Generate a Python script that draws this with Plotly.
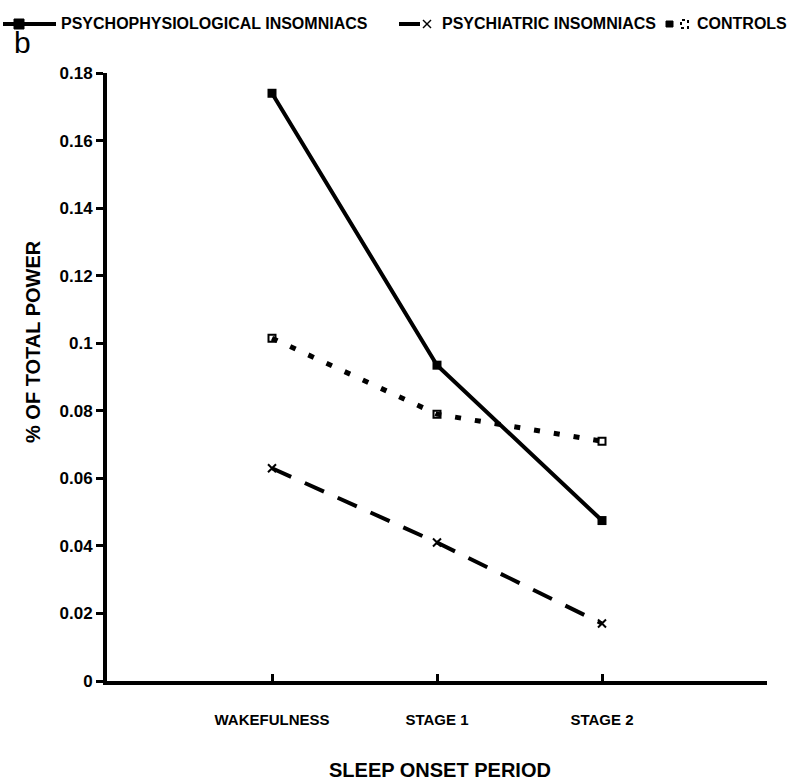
import plotly.graph_objects as go

categories = ["WAKEFULNESS", "STAGE 1", "STAGE 2"]
cat_pos = [1, 2, 3]
psychophys = [0.174, 0.0935, 0.0475]
psychiatric = [0.063, 0.041, 0.017]
controls = [0.1015, 0.079, 0.071]
series_names = ["PSYCHOPHYSIOLOGICAL INSOMNIACS", "PSYCHIATRIC INSOMNIACS", "CONTROLS"]
y_ticks = [0, 0.02, 0.04, 0.06, 0.08, 0.1, 0.12, 0.14, 0.16, 0.18]
y_ticktext = ["0", "0.02", "0.04", "0.06", "0.08", "0.1", "0.12", "0.14", "0.16", "0.18"]

FONT = "Liberation Sans, Arial, sans-serif"
L, T, R, B = 107, 73, 25, 102
W, H = 792 - L - R, 783 - T - B


def px(x):
    return (x - L) / W


def py(y):
    return 1 - (y - T) / H


fig = go.Figure()
fig.add_trace(go.Scatter(
    x=cat_pos, y=psychophys, name=series_names[0],
    mode="lines+markers", line=dict(color="black", width=4),
    marker=dict(symbol="square", size=9, color="black")))
fig.add_trace(go.Scatter(
    x=cat_pos, y=psychiatric, name=series_names[1],
    mode="lines+markers", line=dict(color="black", width=4, dash="21px,15px"),
    marker=dict(symbol="x-thin-open", size=8, color="black", line=dict(width=2, color="black"))))
fig.add_trace(go.Scatter(
    x=cat_pos, y=controls, name=series_names[2],
    mode="lines+markers", line=dict(color="black", width=5, dash="6px,14px"),
    marker=dict(symbol="square-open", size=7, color="black", line=dict(width=2, color="black"))))

fig.update_layout(
    width=792, height=783,
    margin=dict(l=L, r=R, t=T, b=B, autoexpand=False),
    paper_bgcolor="white", plot_bgcolor="white",
    font=dict(family=FONT, color="black", size=16),
    showlegend=False,
    xaxis=dict(range=[0, 4], tickmode="array", tickvals=cat_pos + [4], ticktext=categories + [""],
               showgrid=False, zeroline=False, showline=True, linecolor="black", linewidth=4,
               ticks="inside", ticklen=7, tickwidth=3, tickcolor="black",
               ticklabelstandoff=22,
               tickfont=dict(family=FONT, size=15, weight="bold")),
    yaxis=dict(range=[0, 0.18], tickmode="array", tickvals=y_ticks, ticktext=y_ticktext,
               showgrid=False, zeroline=False, showline=True, linecolor="black", linewidth=4,
               ticks="outside", ticklen=7, tickwidth=3, tickcolor="black",
               tickfont=dict(family=FONT, size=17, weight="bold")),
)

C = dict(xanchor="center", yanchor="middle", showarrow=False, xref="paper", yref="paper")

# axis titles
fig.add_annotation(text="SLEEP ONSET PERIOD", x=px(440), y=py(770),
                   font=dict(family=FONT, size=20, weight="bold"), **C)
fig.add_annotation(text="% OF TOTAL POWER", x=px(33), y=py(342), textangle=-90,
                   font=dict(family=FONT, size=20, weight="bold"), **C)
# panel label
fig.add_annotation(text="b", x=px(22), y=py(42),
                   font=dict(family=FONT, size=30, color="black"), **C)

# legend (drawn manually in one row, as in the original figure)
ly = py(24)
fig.add_shape(type="line", xref="paper", yref="paper", x0=px(3), x1=px(56), y0=ly, y1=ly,
              line=dict(color="black", width=4))
fig.add_shape(type="rect", xref="paper", yref="paper", x0=px(14), x1=px(24), y0=py(29), y1=py(19),
              fillcolor="black", line=dict(color="black", width=1))
fig.add_annotation(text=series_names[0], x=px(59), y=ly,
                   font=dict(family=FONT, size=16, weight="bold"),
                   **{**C, "xanchor": "left"})

fig.add_shape(type="line", xref="paper", yref="paper", x0=px(399), x1=px(420), y0=ly, y1=ly,
              line=dict(color="black", width=4))
fig.add_shape(type="line", xref="paper", yref="paper", x0=px(423), x1=px(431), y0=py(20), y1=py(28),
              line=dict(color="black", width=1.5))
fig.add_shape(type="line", xref="paper", yref="paper", x0=px(423), x1=px(431), y0=py(28), y1=py(20),
              line=dict(color="black", width=1.5))
fig.add_annotation(text=series_names[1], x=px(440), y=ly,
                   font=dict(family=FONT, size=16, weight="bold"),
                   **{**C, "xanchor": "left"})

fig.add_shape(type="rect", xref="paper", yref="paper", x0=px(666), x1=px(673), y0=py(27), y1=py(21),
              fillcolor="black", line=dict(color="black", width=1))
fig.add_shape(type="rect", xref="paper", yref="paper", x0=px(681), x1=px(688), y0=py(28), y1=py(20),
              fillcolor="white", line=dict(color="black", width=2, dash="dot"))
fig.add_annotation(text=series_names[2], x=px(789), y=ly,
                   font=dict(family=FONT, size=16, weight="bold"),
                   **{**C, "xanchor": "right"})

fig.write_html("out.html", config={"displayModeBar": False},
               post_script="document.body.style.margin='0';document.body.style.padding='0';")
